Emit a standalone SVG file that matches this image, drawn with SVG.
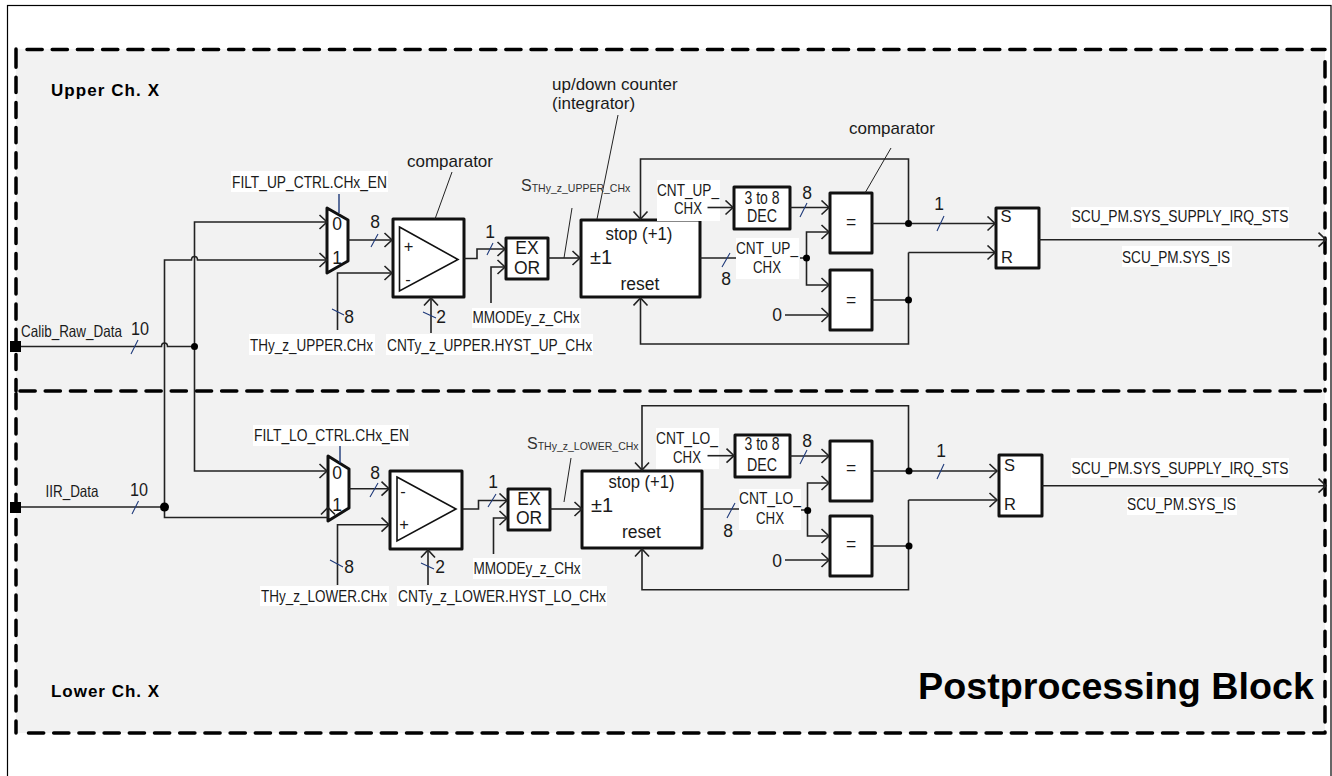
<svg xmlns="http://www.w3.org/2000/svg" width="1332" height="776" viewBox="0 0 1332 776">
<style>
text{font-family:"Liberation Sans",Arial,sans-serif;fill:#1a1a1a}
.t{font-size:16.5px}
.c{font-size:17px}
.m{text-anchor:middle}
.n{font-size:17.5px;text-anchor:middle}
.b{font-weight:bold;fill:#000}
.sub{font-size:10.5px;fill:#333}
.box{fill:#fff;stroke:#111;stroke-width:3;stroke-linejoin:round}
.w{fill:none;stroke:#222;stroke-width:1.6}
.a{marker-end:url(#ar)}
.tk{fill:none;stroke:#1f3a7a;stroke-width:1.1}
.lb{fill:#fff;stroke:none}
.d{fill:none;stroke:#000;stroke-width:3.500;stroke-dasharray:15.2 10;stroke-linecap:round}
.dot{fill:#000}
</style>
<defs>
<marker id="ar" markerUnits="userSpaceOnUse" markerWidth="12" markerHeight="18" refX="9" refY="8" orient="auto">
<path d="M1.500 1L9 8L1.500 15" fill="none" stroke="#222" stroke-width="1.600"/>
</marker>
</defs>
<rect x="0" y="0" width="1332" height="776" fill="#fff"/>
<rect id="frame" x="7.500" y="5.500" width="1323.500" height="800" fill="#fff" stroke="#000" stroke-width="1.200"/>
<g id="block">
<rect x="16" y="49" width="1309" height="684" fill="#f2f2f2"/>
<path class="d" d="M27 49.500H1325M1325 61.700V391M16 49V52M16 52V391M16 393.500V733M28.500 733H1325M1325 404.400V733M20 391H1325"/>
</g>

<g id="mux-upper"><path class="box" d="M327 208L348 220V261L327 273Z"/><text class="n" x="337" y="230">0</text><text class="n" x="337" y="264">1</text></g>
<g id="cmp-upper"><rect class="box" x="393" y="219" width="71" height="78"/><path d="M399.500 227L458 259.500L399.500 291Z" fill="#fff" stroke="#111" stroke-width="1.600"/><text class="t m" x="408.500" y="252">+</text><text class="t m" x="408" y="285">-</text></g>
<g id="xor-upper"><rect class="box" x="506" y="238" width="42" height="41"/><text class="n" x="527" y="254">EX</text><text class="n" x="527" y="274">OR</text></g>
<g id="counter-upper"><rect class="box" x="581" y="220" width="119" height="77"/><text class="n" x="639" y="240" textLength="67" lengthAdjust="spacingAndGlyphs">stop (+1)</text><text x="590" y="264" font-size="20">±1</text><text class="n" x="640" y="290">reset</text></g>
<g id="dec-upper"><rect class="box" x="734" y="187" width="56" height="42"/><text class="n" x="762" y="204" textLength="35" lengthAdjust="spacingAndGlyphs">3 to 8</text><text class="n" x="762" y="222" textLength="30" lengthAdjust="spacingAndGlyphs">DEC</text></g>
<g id="eq1-upper"><rect class="box" x="830" y="193" width="42" height="60"/><text class="n" x="851" y="228">=</text></g>
<g id="eq2-upper"><rect class="box" x="830" y="270" width="42" height="60"/><text class="n" x="851" y="306">=</text></g>
<g id="sr-upper"><rect class="box" x="996" y="208" width="43" height="60"/><text class="t" x="1000.500" y="222">S</text><text class="t" x="1001" y="263">R</text></g>

<g id="mux-lower"><path class="box" d="M328 456L349 469V508L328 521Z"/><text class="n" x="337" y="479">0</text><text class="n" x="337" y="511">1</text></g>
<g id="cmp-lower"><rect class="box" x="390" y="471" width="72" height="78"/><path d="M397 477L456 509L397 541Z" fill="#fff" stroke="#111" stroke-width="1.600"/><text class="t m" x="403" y="497">-</text><text class="t m" x="404" y="530">+</text></g>
<g id="xor-lower"><rect class="box" x="508" y="489" width="42" height="41"/><text class="n" x="529" y="505">EX</text><text class="n" x="529" y="524">OR</text></g>
<g id="counter-lower"><rect class="box" x="582" y="471" width="120" height="77"/><text class="n" x="641.500" y="488" textLength="66" lengthAdjust="spacingAndGlyphs">stop (+1)</text><text x="591" y="512" font-size="20">±1</text><text class="n" x="641.500" y="538">reset</text></g>
<g id="dec-lower"><rect class="box" x="735" y="435" width="55" height="42"/><text class="n" x="762" y="450" textLength="35" lengthAdjust="spacingAndGlyphs">3 to 8</text><text class="n" x="762" y="471" textLength="30" lengthAdjust="spacingAndGlyphs">DEC</text></g>
<g id="eq1-lower"><rect class="box" x="830" y="441" width="42" height="60"/><text class="n" x="851" y="474">=</text></g>
<g id="eq2-lower"><rect class="box" x="830" y="516" width="42" height="60"/><text class="n" x="851" y="550">=</text></g>
<g id="sr-lower"><rect class="box" x="999" y="455" width="43" height="61"/><text class="t" x="1004" y="471">S</text><text class="t" x="1004" y="510">R</text></g>

<g id="label-backgrounds">
<rect class="lb" x="231" y="171" width="157" height="21"/>
<rect class="lb" x="249" y="334" width="126" height="21"/>
<rect class="lb" x="386" y="334" width="207" height="21"/>
<rect class="lb" x="472" y="308" width="109" height="20"/>
<rect class="lb" x="657" y="180" width="63" height="41"/>
<rect class="lb" x="736" y="238" width="63" height="41"/>
<rect class="lb" x="1071" y="207" width="218" height="21"/>
<rect class="lb" x="1122" y="246" width="110" height="21"/>
<rect class="lb" x="253" y="425" width="156" height="21"/>
<rect class="lb" x="260" y="586" width="129" height="20"/>
<rect class="lb" x="397" y="586" width="210" height="20"/>
<rect class="lb" x="473" y="558" width="109" height="21"/>
<rect class="lb" x="656" y="428" width="63" height="41"/>
<rect class="lb" x="739" y="489" width="62" height="41"/>
<rect class="lb" x="1071" y="458" width="218" height="20"/>
<rect class="lb" x="1127" y="497" width="110" height="18"/>
</g>

<g id="connectors">
<rect class="dot" x="10" y="341" width="11" height="11"/>
<rect class="dot" x="10" y="502" width="11" height="11"/>
<path class="w" d="M21 346.500H161.500A3 3.500 0 0 1 167.500 346.500H194.500"/>
<path class="w a" d="M194.500 346.500V222H327"/>
<path class="w a" d="M194.500 346.500V471H327"/>
<path class="w a" d="M164.500 507V260H191.500A3 3.500 0 0 1 197.500 260H327"/>
<path class="w" d="M21 507H164.500"/>
<path class="w" d="M164.500 507V517.500H328V509"/>
<path class="w" d="M321 514.500L328 507.500L335 514.500"/>
<circle class="dot" cx="194.500" cy="346.500" r="3.500"/>
<circle class="dot" cx="164.500" cy="507" r="4.500"/>
<path d="M339 194V213M340 446V463" fill="none" stroke="#1f3a7a" stroke-width="1.400"/>

<path class="w a" d="M348 240H392"/>
<path class="w a" d="M337.500 330V273H392"/>
<path class="w a" d="M431 333V298"/>
<path class="w a" d="M464 258.500H477V249H505"/>
<path class="w a" d="M491 303V267H505"/>
<path class="w a" d="M548 258H580"/>
<path class="w a" d="M908.500 223V159H640.500V219"/>
<path class="w a" d="M908.500 252.500H995"/>
<path class="w a" d="M908.500 252.500V344H640.500V298"/>
<path class="w a" d="M707.500 207.500H733"/>
<path class="w a" d="M790 207.500H829"/>
<path class="w" d="M700 258H736M800 258H807"/>
<path class="w a" d="M806.500 258V232H829"/>
<path class="w a" d="M806.500 258V285H829"/>
<path class="w a" d="M785 315H829"/>
<path class="w a" d="M872 223.500H995"/>
<path class="w" d="M872 300H908.500"/>
<path class="w a" d="M1039 239.700H1326" stroke-width="1.200"/>
<circle class="dot" cx="806.500" cy="258" r="3.500"/>
<circle class="dot" cx="908.500" cy="223.500" r="3.500"/>
<circle class="dot" cx="908.500" cy="300" r="3.500"/>

<path class="w a" d="M349 488.700H389"/>
<path class="w a" d="M337.500 585V524.700H389"/>
<path class="w a" d="M428 585V550"/>
<path class="w a" d="M463 509H478.500V500.500H507"/>
<path class="w a" d="M493.500 554V518H507"/>
<path class="w a" d="M550 509H582"/>
<path class="w a" d="M908.500 471V405.700H642V470"/>
<path class="w a" d="M908.500 500H997"/>
<path class="w a" d="M908.500 500V589.700H642V549"/>
<path class="w a" d="M707.500 455.700H734"/>
<path class="w a" d="M790 456H829"/>
<path class="w" d="M702 509H739M801 510H808"/>
<path class="w a" d="M807.500 510V483H829"/>
<path class="w a" d="M807.500 510V536H829"/>
<path class="w a" d="M785 560H829"/>
<path class="w a" d="M872 471H997"/>
<path class="w" d="M872 546H908.500"/>
<path class="w a" d="M1042 485.700H1326" stroke-width="1.200"/>
<circle class="dot" cx="807.700" cy="510.500" r="3.500"/>
<circle class="dot" cx="909" cy="471" r="3.500"/>
<circle class="dot" cx="909" cy="546" r="3.500"/>

<path class="tk" d="M131 354L138 340M138.500 501L132 514M371 247L378 234M332 309L344 315M423 312L436 318M487 255L493 243M800 217L807 203M937 231L944 216M722 267L730 253"/>
<path class="tk" d="M370 497L378 483M330 560L343 567M421 563L434 569M488 507L496 494M800 464L807 450M937 479L944 464M727 518L735 503"/>
<path d="M452 172L435 219M891 148L865 193M618 115L597 219M572 208L564 258M571 458L564 502" fill="none" stroke="#222" stroke-width="1"/>
</g>

<g id="labels">
<text class="b" x="51" y="96" font-size="17" textLength="108" lengthAdjust="spacing">Upper Ch. X</text>
<text class="b" x="51" y="697" font-size="17" textLength="108" lengthAdjust="spacing">Lower Ch. X</text>
<text class="b" x="918" y="699" font-size="36" textLength="396" lengthAdjust="spacingAndGlyphs">Postprocessing Block</text>

<text class="t" x="21" y="337" textLength="101" lengthAdjust="spacingAndGlyphs">Calib_Raw_Data</text>
<text class="n" x="140" y="335" textLength="18" lengthAdjust="spacingAndGlyphs">10</text>
<text class="t" x="45.500" y="497" textLength="53" lengthAdjust="spacingAndGlyphs">IIR_Data</text>
<text class="n" x="139" y="496" textLength="18" lengthAdjust="spacingAndGlyphs">10</text>
<text class="t" x="232" y="188" textLength="155" lengthAdjust="spacingAndGlyphs">FILT_UP_CTRL.CHx_EN</text>
<text class="t" x="250" y="351" textLength="123" lengthAdjust="spacingAndGlyphs">THy_z_UPPER.CHx</text>
<text class="t" x="387" y="351" textLength="205" lengthAdjust="spacingAndGlyphs">CNTy_z_UPPER.HYST_UP_CHx</text>
<text class="t" x="472.500" y="323" textLength="107" lengthAdjust="spacingAndGlyphs">MMODEy_z_CHx</text>
<text class="n" x="375" y="228">8</text>
<text class="n" x="349" y="323">8</text>
<text class="n" x="441" y="323">2</text>
<text class="n" x="490" y="238">1</text>
<text class="c m" x="450" y="167">comparator</text>
<text class="c m" x="892" y="134">comparator</text>
<text class="c" x="552" y="90">up/down counter</text>
<text class="c" x="552" y="109">(integrator)</text>
<text class="t" x="521" y="191" style="fill:#333;font-size:16px">S<tspan class="sub" y="192">THy_z_UPPER_CHx</tspan></text>
<text class="t m" x="688" y="196" textLength="62" lengthAdjust="spacingAndGlyphs">CNT_UP_</text>
<text class="t m" x="688" y="214" textLength="28" lengthAdjust="spacingAndGlyphs">CHX</text>
<text class="t m" x="767" y="254" textLength="62" lengthAdjust="spacingAndGlyphs">CNT_UP_</text>
<text class="t m" x="767" y="273" textLength="28" lengthAdjust="spacingAndGlyphs">CHX</text>
<text class="n" x="807" y="199">8</text>
<text class="n" x="726" y="285">8</text>
<text class="n" x="777" y="321">0</text>
<text class="n" x="939" y="210">1</text>
<text class="t" x="1071.500" y="222" textLength="217" lengthAdjust="spacingAndGlyphs">SCU_PM.SYS_SUPPLY_IRQ_STS</text>
<text class="t" x="1122" y="263" textLength="108" lengthAdjust="spacingAndGlyphs">SCU_PM.SYS_IS</text>

<text class="t" x="254" y="441" textLength="155" lengthAdjust="spacingAndGlyphs">FILT_LO_CTRL.CHx_EN</text>
<text class="t" x="261" y="602" textLength="126" lengthAdjust="spacingAndGlyphs">THy_z_LOWER.CHx</text>
<text class="t" x="398" y="602" textLength="208" lengthAdjust="spacingAndGlyphs">CNTy_z_LOWER.HYST_LO_CHx</text>
<text class="t" x="473.500" y="574" textLength="107" lengthAdjust="spacingAndGlyphs">MMODEy_z_CHx</text>
<text class="n" x="375" y="479">8</text>
<text class="n" x="349" y="573">8</text>
<text class="n" x="440" y="573">2</text>
<text class="n" x="493" y="488">1</text>
<text class="t" x="527" y="449" style="fill:#333;font-size:16px">S<tspan class="sub" y="450">THy_z_LOWER_CHx</tspan></text>
<text class="t m" x="687" y="444" textLength="62" lengthAdjust="spacingAndGlyphs">CNT_LO_</text>
<text class="t m" x="687" y="463" textLength="28" lengthAdjust="spacingAndGlyphs">CHX</text>
<text class="t m" x="770" y="504" textLength="62" lengthAdjust="spacingAndGlyphs">CNT_LO_</text>
<text class="t m" x="770" y="524" textLength="28" lengthAdjust="spacingAndGlyphs">CHX</text>
<text class="n" x="807" y="447">8</text>
<text class="n" x="728" y="537">8</text>
<text class="n" x="777" y="567">0</text>
<text class="n" x="941" y="457">1</text>
<text class="t" x="1071.500" y="474" textLength="217" lengthAdjust="spacingAndGlyphs">SCU_PM.SYS_SUPPLY_IRQ_STS</text>
<text class="t" x="1127" y="510" textLength="109" lengthAdjust="spacingAndGlyphs">SCU_PM.SYS_IS</text>
</g>
</svg>
